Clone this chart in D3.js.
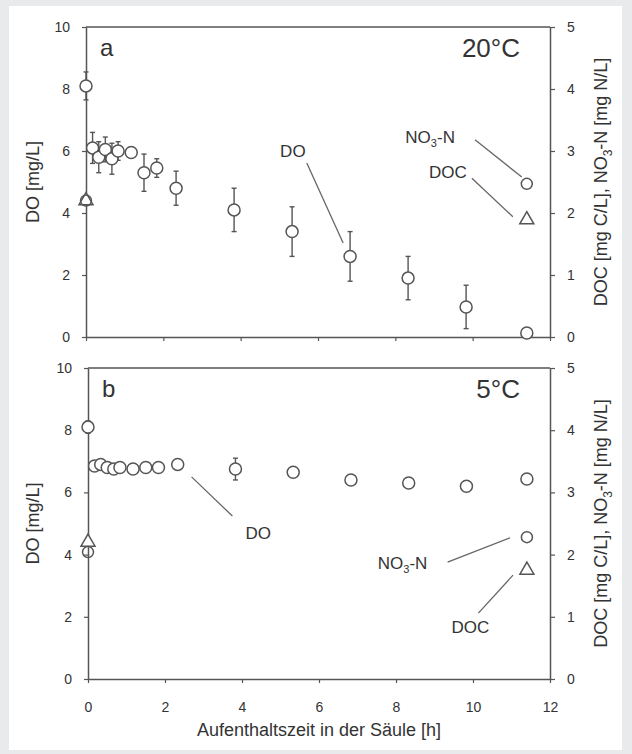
<!DOCTYPE html>
<html><head><meta charset="utf-8">
<script src="https://cdn.jsdelivr.net/npm/d3@7"></script>
<style>
body{margin:0;background:#e9eaec;}
text{font-family:"Liberation Sans",Arial,sans-serif;fill:#333;}
</style>
</head><body><svg id="c" width="632" height="754"></svg>
<script>
// ---- data ----
const timesH = [0,0.17,0.33,0.5,0.67,0.83,1.17,1.5,1.83,2.33,3.83,5.33,6.83,8.33,9.83,11.4];
const doA    = [8.1,6.1,5.8,6.05,5.75,6.0,5.95,5.3,5.45,4.8,4.1,3.4,2.6,1.9,0.97,0.13];
const doAErr = [0.45,0.5,0.5,0.4,0.5,0.3,0.15,0.6,0.3,0.55,0.7,0.8,0.8,0.7,0.7,0.1];
const doB    = [8.1,6.85,6.9,6.8,6.75,6.8,6.75,6.8,6.8,6.9,6.75,6.65,6.4,6.3,6.2,6.43];
const doBErr = [0.2,0.15,0.15,0.1,0.1,0.1,0.1,0.1,0.1,0.1,0.35,0.15,0.1,0.1,0.1,0.1];
const nutTimes = [0, 11.4];
const no3A = [2.2, 2.47];
const docA = [2.2, 1.89];
const no3B = [2.04, 2.28];
const docB = [2.2, 1.75];
const xTicks = [0,2,4,6,8,10,12];
const leftTicks = [0,2,4,6,8,10];
const rightTicks = [0,1,2,3,4,5];
const panelLetters = ["a","b"];
const panelTemps = ["20°C","5°C"];
// annotations in data units (x hours, y on axis 'l' DO or 'r' right)
const annA = [
  {t:"DO", ax:"l", x:5.35, y:5.97, x1:5.71, y1:5.61, x2:6.65, y2:3.03},
  {t:"NO3", ax:"r", x:8.9, y:3.23, x1:10.06, y1:3.18, x2:11.27, y2:2.58},
  {t:"DOC", ax:"r", x:9.36, y:2.65, x1:9.98, y1:2.56, x2:11.04, y2:1.94}
];
const annB = [
  {t:"DO", ax:"l", x:4.42, y:4.69, x1:2.69, y1:6.5, x2:3.75, y2:5.24},
  {t:"NO3", ax:"r", x:8.17, y:1.86, x1:9.34, y1:1.88, x2:10.96, y2:2.27},
  {t:"DOC", ax:"r", x:9.93, y:0.82, x1:10.14, y1:1.06, x2:11.04, y2:1.67}
];

const svg = d3.select("#c");
svg.append("rect").attr("x",0).attr("y",0).attr("width",632).attr("height",754).attr("fill","#e9eaec");
svg.append("rect").attr("x",9).attr("y",6).attr("width",613).attr("height",744).attr("fill","#ffffff");

const C = "#555";
const panels = [
  {top:27, bottom:337, left:86, right:550, doV:doA, err:doAErr, no3:no3A, doc:docA, ann:annA, labels:false},
  {top:368, bottom:679, left:88, right:550, doV:doB, err:doBErr, no3:no3B, doc:docB, ann:annB, labels:true}
];

panels.forEach((p,i)=>{
  const g = svg.append("g");
  const x = d3.scaleLinear().domain([0,12]).range([p.left,p.right]);
  const yl = d3.scaleLinear().domain([0,10]).range([p.bottom,p.top]);
  const yr = d3.scaleLinear().domain([0,5]).range([p.bottom,p.top]);

  g.append("line").attr("x1",p.left).attr("x2",p.right).attr("y1",p.top).attr("y2",p.top)
    .attr("stroke",C).attr("stroke-width",1.5);

  const style = (sel)=>{
    sel.selectAll("path").attr("stroke",C).attr("stroke-width",1.5);
    sel.selectAll("line").attr("stroke",C).attr("stroke-width",1.2);
    sel.selectAll("text").attr("fill","#3a3a3a").style("font-size","14px")
      .style("font-family","'Liberation Sans',Arial,sans-serif");
  };
  const ax = g.append("g").attr("transform",`translate(0,${p.bottom})`)
    .call(d3.axisBottom(x).tickValues(xTicks).tickSize(4).tickSizeOuter(0).tickPadding(19)
      .tickFormat(p.labels? d3.format("d") : ()=>""));
  style(ax);
  const al = g.append("g").attr("transform",`translate(${p.left},0)`)
    .call(d3.axisLeft(yl).tickValues(leftTicks).tickSize(4).tickSizeOuter(0).tickPadding(12).tickFormat(d3.format("d")));
  style(al);
  const ar = g.append("g").attr("transform",`translate(${p.right},0)`)
    .call(d3.axisRight(yr).tickValues(rightTicks).tickSize(5).tickSizeOuter(0).tickPadding(12).tickFormat(d3.format("d")));
  style(ar);

  const mid = (p.top+p.bottom)/2;
  g.append("text").attr("transform",`translate(33,${mid}) rotate(-90)`)
    .attr("text-anchor","middle").attr("dominant-baseline","central").style("font-size","18px").text("DO [mg/L]");
  const rt = g.append("text").attr("transform",`translate(601,${mid}) rotate(-90)`)
    .attr("text-anchor","middle").attr("dominant-baseline","central").style("font-size","18px");
  rt.append("tspan").text("DOC [mg C/L], NO");
  rt.append("tspan").attr("baseline-shift","sub").style("font-size","12px").text("3");
  rt.append("tspan").text("-N [mg N/L]");

  g.append("text").attr("x",p.left+14).attr("y",p.top+29).style("font-size","24px").text(panelLetters[i]);
  g.append("text").attr("x",p.right-30).attr("y",p.top+30).attr("text-anchor","end").style("font-size","26px").text(panelTemps[i]);

  p.ann.forEach(a=>{
    const ys = a.ax==="l"? yl : yr;
    g.append("line").attr("x1",x(a.x1)).attr("y1",ys(a.y1)).attr("x2",x(a.x2)).attr("y2",ys(a.y2))
      .attr("stroke","#666").attr("stroke-width",1.3);
    const t = g.append("text").attr("x",x(a.x)).attr("y",ys(a.y)).attr("text-anchor","middle")
      .attr("dominant-baseline","central").style("font-size","17px");
    if(a.t==="NO3"){
      t.append("tspan").text("NO");
      t.append("tspan").attr("baseline-shift","sub").style("font-size","11px").text("3");
      t.append("tspan").text("-N");
    } else t.text(a.t);
  });

  const eb = g.append("g");
  timesH.forEach((tt,k)=>{
    const cx = x(tt), lo = yl(p.doV[k]-p.err[k]), hi = yl(p.doV[k]+p.err[k]);
    eb.append("line").attr("x1",cx).attr("x2",cx).attr("y1",lo).attr("y2",hi).attr("stroke",C).attr("stroke-width",1.4);
    eb.append("line").attr("x1",cx-2.5).attr("x2",cx+2.5).attr("y1",lo).attr("y2",lo).attr("stroke",C).attr("stroke-width",1.4);
    eb.append("line").attr("x1",cx-2.5).attr("x2",cx+2.5).attr("y1",hi).attr("y2",hi).attr("stroke",C).attr("stroke-width",1.4);
  });
  g.selectAll("circle.do").data(timesH).enter().append("circle").attr("class","do")
    .attr("cx",d=>x(d)).attr("cy",(d,k)=>yl(p.doV[k])).attr("r",6)
    .attr("fill","#fff").attr("stroke",C).attr("stroke-width",1.5);

  const tri = d3.symbol().type(d3.symbolTriangle).size(85);
  g.selectAll("path.doc").data(nutTimes).enter().append("path").attr("class","doc")
    .attr("d",tri).attr("transform",(d,k)=>`translate(${x(d)},${yr(p.doc[k])})`)
    .attr("fill","#fff").attr("stroke",C).attr("stroke-width",1.5);
  g.selectAll("circle.no3").data(nutTimes).enter().append("circle").attr("class","no3")
    .attr("cx",d=>x(d)).attr("cy",(d,k)=>yr(p.no3[k])).attr("r",5.5)
    .attr("fill","none").attr("stroke",C).attr("stroke-width",1.5);
});

svg.append("text").attr("x",(88+550)/2).attr("y",736).attr("text-anchor","middle")
  .style("font-size","18px").text("Aufenthaltszeit in der Säule [h]");
</script>
</body></html>
